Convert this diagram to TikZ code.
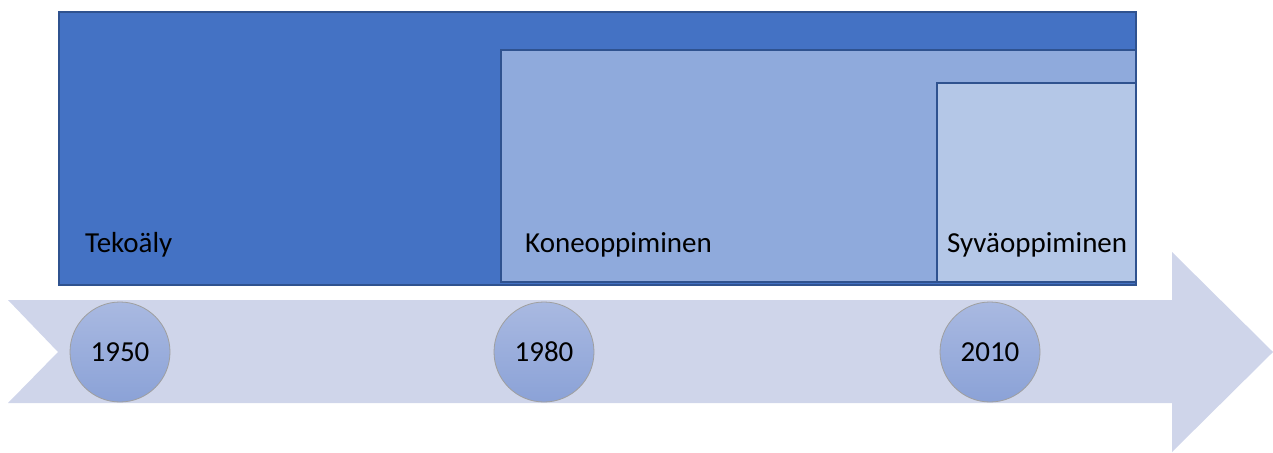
\documentclass[tikz,border=0pt]{standalone}
\usepackage{fontspec}
\setmainfont{Carlito}

\definecolor{aiblue}{HTML}{4472C4}
\definecolor{mlblue}{HTML}{8FAADC}
\definecolor{dlblue}{HTML}{B4C7E7}
\definecolor{edgeblue}{HTML}{2F528F}
\definecolor{timeline}{HTML}{CFD5EA}
\definecolor{yeartop}{HTML}{A9B9E1}
\definecolor{yearbottom}{HTML}{8BA2D7}

\tikzset{
  field/.style={draw=edgeblue, line width=1.5pt},
  fieldlabel/.style={anchor=base west, inner sep=0pt, font=\fontsize{29}{34}\selectfont},
  year/.style={circle, draw=gray!75, line width=0.8pt, minimum size=100pt,
               top color=yeartop, bottom color=yearbottom,
               font=\fontsize{29}{34}\selectfont}
}

\begin{document}
\begin{tikzpicture}[x=1pt, y=-1pt]
  \useasboundingbox (0,0) rectangle (1273,452);
  % nested fields
  \draw[field, fill=aiblue] (59,12) rectangle (1136,285);
  \draw[field, fill=mlblue] (501,50) rectangle (1136,282);
  \draw[field, fill=dlblue] (937,83) rectangle (1136,282);
  \node[fieldlabel] (tekoaly) at (85,252) {Tekoäly};
  \node[fieldlabel] (kone) at (525,252) {Koneoppiminen};
  \node[fieldlabel] (syva) at (947,252) {Syväoppiminen};
  % timeline arrow
  \fill[timeline] (8,300) -- (1172,300) -- (1172,252) -- (1273,352)
       -- (1172,452) -- (1172,403) -- (8,403) -- (58,352) -- cycle;
  \node[year] (y1950) at (120,352) {1950};
  \node[year] (y1980) at (544,352) {1980};
  \node[year] (y2010) at (990,352) {2010};
\end{tikzpicture}
\end{document}
